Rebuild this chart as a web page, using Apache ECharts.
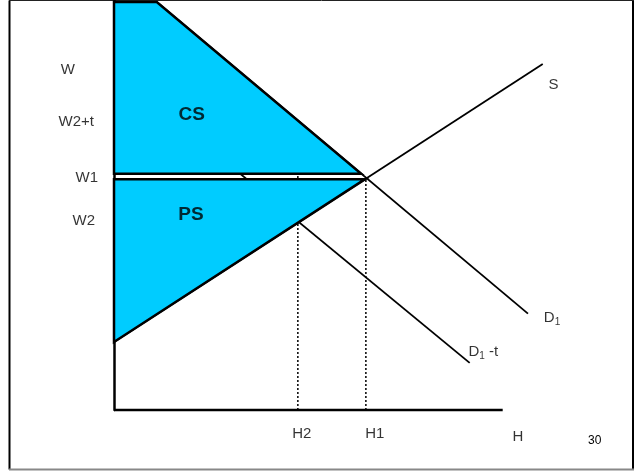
<!DOCTYPE html>
<html>
<head>
<meta charset="utf-8">
<script src="https://cdn.jsdelivr.net/npm/echarts@6/dist/echarts.min.js"></script>
<style>
  html, body { margin: 0; padding: 0; background: #fff; }
  #chart { width: 642px; height: 471px; }
</style>
</head>
<body>
<div id="chart"></div>
<script>
// labour market with a tax: wage (W) on the vertical, hours (H) on the horizontal
const wageLabels = ['W', 'W2+t', 'W1', 'W2']
const wageValues = [82.9, 70.2, 56.6, 46.1]
const hourLabels = ['H2', 'H1']
const hourValues = [47.3, 64.8]
const hourAxisEnd = 100
const supply = [[0, 16.6], [110.3, 84.4]]
const demand = [[11, 99.5], [106.5, 23.5]]
const demandTax = [[0, 83], [91.5, 11.5]]
const consumerSurplus = [[0, 99.5], [11, 99.5], [63.6, 57.6], [0, 57.6]]
const producerSurplus = [[0, 56.3], [64.6, 56.3], [0, 16.6]]

const font = "'Liberation Sans', Arial, sans-serif"
const chart = echarts.init(document.getElementById('chart'), null, { renderer: 'canvas' })

// gaps (px) between the wage labels and the axis, they are not aligned in the original
const wageGap = [39, 20, 16, 19]
const hourShift = [4, 9]

const lineSeries = (data, extra) => Object.assign({
  type: 'line',
  data,
  symbol: 'none',
  clip: false,
  silent: true,
  z: 2,
  lineStyle: { color: '#000', width: 1.8 }
}, extra)

const polygons = [consumerSurplus, producerSurplus]

const option = {
  animation: false,
  textStyle: { fontFamily: font },
  // x range goes past the drawn H axis so S and D1 can run beyond it
  grid: { left: 114, right: 81, top: 0, bottom: 61 },
  xAxis: {
    type: 'value', min: 0, max: 115,
    axisLine: { show: false },
    axisTick: { show: false }, axisLabel: { show: false }, splitLine: { show: false }
  },
  yAxis: {
    type: 'value', min: 0, max: 100,
    axisLine: { show: true, lineStyle: { color: '#000', width: 2.5 } },
    axisTick: { show: false }, axisLabel: { show: false }, splitLine: { show: false }
  },
  graphic: [
    { type: 'line', shape: { x1: 9.5, y1: 0.5, x2: 9.5, y2: 469.5 }, style: { stroke: '#000', lineWidth: 2 } },
    { type: 'line', shape: { x1: 633, y1: 0.5, x2: 633, y2: 469.5 }, style: { stroke: '#000', lineWidth: 2 } },
    { type: 'line', shape: { x1: 9, y1: 0.5, x2: 634, y2: 0.5 }, style: { stroke: '#222', lineWidth: 1 } },
    { type: 'line', shape: { x1: 9, y1: 469.5, x2: 634, y2: 469.5 }, style: { stroke: '#888', lineWidth: 2 } },
    { type: 'text', left: 588, top: 435, style: { text: '30', font: '12px ' + font, fill: '#000' } }
  ],
  series: [
    lineSeries([[0, 0], [hourAxisEnd, 0]], { z: 3, lineStyle: { color: '#000', width: 2.5 } }),
    lineSeries([[hourValues[0], 0], [hourValues[0], 57.6]], { lineStyle: { color: '#000', width: 1.5, type: [2, 2] } }),
    lineSeries([[hourValues[1], 0], [hourValues[1], wageValues[2]]], { lineStyle: { color: '#000', width: 1.5, type: [2, 2] } }),
    lineSeries(demandTax),
    lineSeries(demand),
    lineSeries(supply),
    {
      type: 'custom',
      z: 5,
      silent: true,
      data: polygons.map((p, i) => [i]),
      renderItem: (params, api) => ({
        type: 'polygon',
        shape: { points: polygons[params.dataIndex].map(p => api.coord(p)) },
        style: { fill: '#00CCFF', stroke: '#000', lineWidth: 2.5, lineJoin: 'miter' }
      })
    },
    {
      type: 'scatter',
      z: 10,
      clip: false,
      silent: true,
      symbolSize: 0,
      data: wageValues.map((v, i) => ({
        value: [0, v],
        label: { show: true, position: 'left', distance: wageGap[i], formatter: wageLabels[i] }
      })),
      label: { color: '#000', fontSize: 15, fontFamily: font }
    },
    {
      type: 'scatter',
      z: 10,
      clip: false,
      silent: true,
      symbolSize: 0,
      data: hourValues.map((v, i) => ({
        value: [v, 0],
        label: { show: true, position: 'bottom', distance: 16, offset: [hourShift[i], 0], formatter: hourLabels[i] }
      })),
      label: { color: '#000', fontSize: 15, fontFamily: font }
    },
    {
      type: 'scatter',
      z: 10,
      clip: false,
      silent: true,
      symbolSize: 0,
      data: [
        { value: [20, 72], label: { formatter: '{b|CS}' } },
        { value: [19.8, 47.6], label: { formatter: '{b|PS}' } },
        { value: [113.1, 79.3], label: { formatter: 'S' } },
        { value: [112.7, 22.4], label: { formatter: 'D{s|1}' } },
        { value: [95, 14.1], label: { formatter: 'D{s|1} -t' } },
        { value: [103.9, -6.6], label: { formatter: 'H' } }
      ],
      label: {
        show: true,
        position: 'inside',
        color: '#000',
        fontSize: 15,
        fontFamily: font,
        rich: {
          b: { fontSize: 19, fontWeight: 'bold', fontFamily: font, color: '#000' },
          s: { fontSize: 10, fontFamily: font, color: '#000', verticalAlign: 'bottom', padding: [8, 0, 0, 0] }
        }
      }
    }
  ]
}

chart.setOption(option)
</script>
</body>
</html>
